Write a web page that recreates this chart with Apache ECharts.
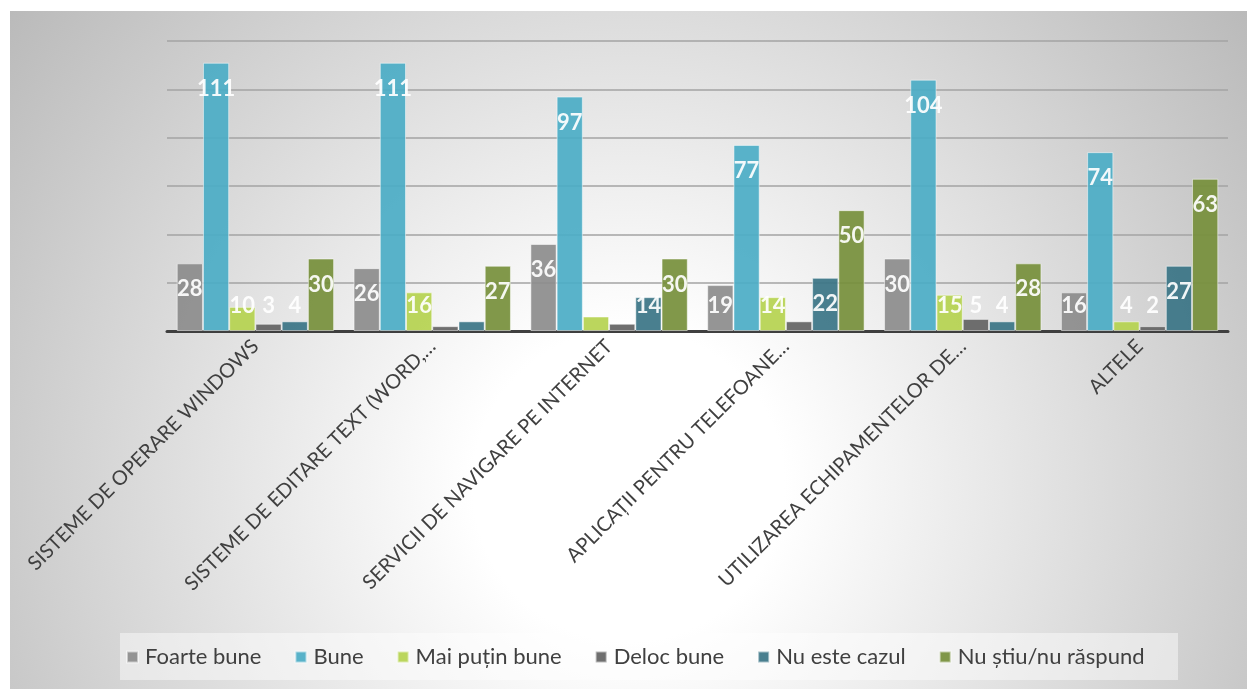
<!DOCTYPE html>
<html>
<head>
<meta charset="utf-8">
<script src="https://cdn.jsdelivr.net/npm/echarts@6/dist/echarts.min.js"></script>
<style>
html,body{margin:0;padding:0;background:#ffffff;}
#chart{width:1247px;height:689px;}
</style>
</head>
<body>
<div id="chart"></div>
<script>
const categories = [
  'SISTEME DE OPERARE WINDOWS',
  'SISTEME DE EDITARE TEXT (WORD,…',
  'SERVICII DE NAVIGARE PE INTERNET',
  'APLICAȚII PENTRU TELEFOANE…',
  'UTILIZAREA ECHIPAMENTELOR DE…',
  'ALTELE'
];
const seriesNames = ['Foarte bune', 'Bune', 'Mai puțin bune', 'Deloc bune', 'Nu este cazul', 'Nu știu/nu răspund'];
const foarteBune = [28, 26, 36, 19, 30, 16];
const bune = [111, 111, 97, 77, 104, 74];
const maiPutinBune = [10, 16, 6, 14, 15, 4];
const delocBune = [3, 2, 3, 4, 5, 2];
const nuEsteCazul = [4, 4, 14, 22, 4, 27];
const nuStiu = [30, 27, 30, 50, 28, 63];
// labels that are not shown in the original: [seriesIndex, categoryIndex]
const hiddenLabels = [[3, 1], [4, 1], [2, 2], [3, 2], [3, 3]];

const seriesValues = [foarteBune, bune, maiPutinBune, delocBune, nuEsteCazul, nuStiu];
const colors = ['#8c8c8c', '#4bacc6', '#b5d24f', '#636363', '#3a7485', '#768f3b'];

const FONT = 'Lato';

function isHidden(s, c) {
  return hiddenLabels.some(p => p[0] === s && p[1] === c);
}

const series = seriesValues.map((vals, s) => ({
  name: seriesNames[s],
  type: 'bar',
  barGap: '0%',
  barCategoryGap: '11%',
  itemStyle: { color: colors[s], opacity: 0.92, borderColor: 'rgba(255,255,255,0.55)', borderWidth: 1 },
  label: {
    show: true,
    color: '#ffffff',
    fontFamily: FONT,
    fontWeight: 'bold',
    fontSize: 22,
    position: 'insideTop',
    distance: 15
  },
  data: vals.map((v, c) => {
    const item = { value: v };
    if (isHidden(s, c)) {
      item.label = { show: false };
    } else if (v < 21) {
      item.label = { position: 'insideBottom', distance: 14 };
    }
    return item;
  })
}));

const chart = echarts.init(document.getElementById('chart'), null, { renderer: 'canvas' });
chart.setOption({
  animation: false,
  backgroundColor: '#ffffff',
  color: colors,
  graphic: [
    {
      type: 'rect',
      z: -100,
      silent: true,
      shape: { x: 10, y: 11, width: 1237, height: 678 },
      style: {
        fill: {
          type: 'radial', x: 0.5, y: 0.7, r: 1.15,
          colorStops: [
            { offset: 0, color: '#ffffff' },
            { offset: 0.2, color: '#ffffff' },
            { offset: 1, color: '#bababa' }
          ]
        }
      }
    },
    {
      type: 'rect',
      z: -90,
      silent: true,
      shape: { x: 120, y: 633, width: 1058, height: 47 },
      style: { fill: 'rgba(255,255,255,0.45)' }
    }
  ],
  grid: { left: 167, right: 19, top: 41, bottom: 358, containLabel: false },
  legend: {
    left: 126,
    top: 646,
    padding: 0,
    itemWidth: 11,
    itemHeight: 11,
    itemGap: 33,
    icon: 'rect',
    textStyle: { fontFamily: FONT, fontSize: 22, color: '#404040', padding: [0, 0, 0, 2] },
    data: seriesNames
  },
  xAxis: {
    type: 'category',
    data: categories,
    axisLine: { show: true, lineStyle: { color: '#3f3f3f', width: 3 } },
    axisTick: { show: false },
    axisLabel: {
      interval: 0,
      rotate: 45,
      margin: 12,
      fontFamily: FONT,
      fontSize: 20,
      color: '#404040'
    }
  },
  yAxis: {
    type: 'value',
    min: 0,
    max: 120,
    interval: 20,
    axisLine: { show: false },
    axisTick: { show: false },
    axisLabel: { show: false },
    splitLine: { show: true, lineStyle: { color: '#a3a3a3', width: 1.5 } }
  },
  series: series
});
</script>
</body>
</html>
